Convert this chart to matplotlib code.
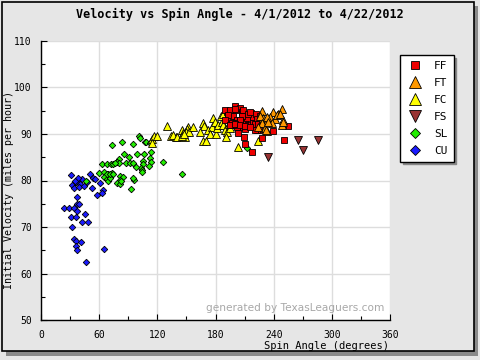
import matplotlib
matplotlib.use("Agg")
import matplotlib.pyplot as plt
from matplotlib.patches import Rectangle
from matplotlib.ticker import MultipleLocator

# ---------------- data (spin angle deg, velocity mph) ----------------
ff_x = [191.5, 196.7, 200.1, 201.2, 205.3, 207.0, 208.7, 209.4, 210.4, 212.2, 216.3,
        193.2, 195.0, 198.4, 201.9, 203.5, 205.3, 207.0, 208.7, 213.9, 218.4, 219.0,
        221.8, 223.2, 225.9, 220.8, 224.2, 227.7, 225.2, 223.2, 220.8, 201.9, 203.5,
        209.4, 210.4, 218.0, 227.7, 250.7, 255.1, 250.0, 239.0, 210.4, 198.4, 207.0,
        213.2, 196.7, 189.8, 195.0, 200.1, 205.3, 215.6, 193.2, 189.8, 195.0, 200.1,
        205.3, 210.4, 215.6]
ff_y = [94.8, 94.8, 96.0, 95.2, 95.5, 94.8, 95.2, 93.9, 93.0, 93.4, 94.6,
        93.7, 93.2, 93.9, 93.0, 92.3, 92.6, 91.7, 91.6, 91.9, 92.4, 93.7,
        94.3, 93.2, 93.9, 92.2, 92.1, 92.3, 90.9, 90.9, 90.9, 91.6, 90.3,
        89.4, 87.8, 86.1, 89.2, 88.8, 91.7, 91.9, 90.6, 91.0, 91.9, 93.9,
        94.3, 92.3, 95.2, 95.2, 95.4, 93.0, 94.8, 94.1, 93.0, 91.9, 92.1,
        91.9, 91.8, 91.6]

ft_x = [227.7, 239.6, 248.3, 244.8, 236.2, 229.3, 225.9, 233.5, 241.4, 249.3, 227.7,
        231.1, 238.0, 248.3, 224.2, 232.8, 232.8, 234.5, 243.1, 246.5, 249.3, 232.1]
ft_y = [94.9, 94.8, 95.4, 94.4, 93.7, 93.4, 93.9, 92.8, 93.2, 93.0, 92.3,
        91.2, 92.3, 91.9, 91.6, 90.6, 93.7, 92.6, 94.1, 94.4, 92.6, 90.8]

fc_x = [129.7, 152.0, 134.1, 139.3, 114.2, 116.6, 119.3, 114.2, 145.1, 150.3, 149.6,
        153.0, 156.5, 166.8, 168.1, 164.0, 172.6, 176.1, 177.7, 179.5, 174.3, 180.5,
        181.2, 182.9, 186.4, 188.1, 189.8, 191.6, 190.5, 195.0, 194.2, 203.5, 224.2,
        167.4, 170.2, 136.5, 140.0, 146.8, 148.5, 185.4, 187.4, 145.0, 148.0]
fc_y = [91.7, 91.6, 89.6, 89.4, 89.0, 89.6, 89.6, 88.0, 90.9, 91.0, 90.4,
        90.5, 91.6, 92.3, 91.8, 90.5, 90.9, 91.4, 93.5, 92.6, 90.1, 89.9,
        91.2, 91.9, 92.6, 91.9, 90.9, 90.5, 89.4, 91.2, 92.1, 87.2, 88.5,
        88.6, 88.4, 89.8, 89.4, 90.2, 89.4, 93.9, 94.3, 89.6, 90.0]

fs_x = [234.5, 264.6, 269.8, 285.4]
fs_y = [85.0, 88.8, 86.5, 88.8]

sl_x = [101.4, 72.9, 83.9, 95.2, 107.6, 85.9, 91.1, 99.3, 106.6, 80.5, 78.0, 80.2,
        62.6, 68.1, 71.9, 74.6, 87.4, 91.8, 95.2, 104.9, 105.5, 103.2, 104.5, 97.7,
        60.1, 65.3, 69.4, 72.9, 65.3, 67.8, 69.4, 71.2, 46.1, 81.5, 84.3, 81.5,
        78.0, 81.5, 92.8, 95.9, 95.2, 102.0, 108.0, 112.4, 115.8, 113.2, 126.2,
        112.4, 113.2, 111.7, 103.9, 145.7, 212.0, 76.3, 67.8, 71.2, 74.5, 82.2]
sl_y = [89.6, 87.6, 88.2, 87.8, 88.2, 85.6, 85.0, 85.6, 85.6, 84.6, 84.0, 83.7,
        83.5, 83.5, 83.5, 83.5, 83.7, 83.7, 83.7, 84.3, 83.5, 82.6, 82.3, 83.0,
        81.7, 81.9, 81.5, 81.7, 80.8, 80.3, 80.0, 80.6, 79.9, 81.0, 80.7, 80.1,
        79.5, 79.2, 78.1, 80.1, 80.5, 89.1, 88.2, 88.1, 88.9, 86.1, 83.9,
        84.9, 84.0, 83.2, 81.9, 81.3, 87.0, 83.7, 81.5, 81.5, 81.5, 79.8]

cu_x = [31.3, 50.5, 37.5, 32.3, 34.4, 42.6, 47.0, 52.3, 53.3, 55.7, 60.9, 64.3,
        62.6, 58.0, 37.5, 37.5, 39.2, 23.7, 28.9, 34.0, 37.5, 45.4, 30.6, 35.8,
        42.6, 48.8, 32.3, 34.4, 36.4, 41.6, 36.1, 37.5, 65.3, 46.7, 36.0, 38.5,
        40.0, 39.0, 35.5, 44.0]
cu_y = [81.2, 81.5, 79.9, 79.0, 78.3, 80.3, 79.7, 78.3, 80.5, 80.3, 79.4, 78.0,
        77.4, 76.9, 76.4, 75.0, 75.0, 74.0, 74.0, 74.0, 73.5, 72.7, 72.1, 72.1,
        71.0, 71.0, 70.0, 67.4, 67.0, 66.7, 65.9, 65.0, 65.2, 62.4, 79.6, 80.6,
        79.2, 78.5, 80.0, 78.8]

x_ticks = [0, 60, 120, 180, 240, 300, 360]
y_ticks = [50, 60, 70, 80, 90, 100, 110]

# ---------------- figure ----------------
W, H = 480, 360
fig = plt.figure(figsize=(4.8, 3.6), dpi=100)
fig.patch.set_facecolor("#e6e6e6")

def fx(px):
    return px / W

def fy(py):
    return 1 - py / H

# outer frame with shadow
fig.patches.append(Rectangle((fx(6), fy(356)), fx(478) - fx(6), fy(6) - fy(356),
                             transform=fig.transFigure, facecolor="#8a8a8a",
                             edgecolor="none", zorder=-3))
fig.patches.append(Rectangle((fx(2), fy(351)), fx(474) - fx(2), fy(2) - fy(351),
                             transform=fig.transFigure, facecolor="#e6e6e6",
                             edgecolor="black", linewidth=1.2, zorder=-2))

ax = fig.add_axes([fx(41), fy(320), fx(390) - fx(41), fy(41) - fy(320)])
ax.set_zorder(1)
ax.set_facecolor("white")
ax.set_xlim(0, 360)
ax.set_ylim(50, 110)
ax.set_xticks(x_ticks)
ax.set_yticks(y_ticks)
ax.xaxis.set_minor_locator(MultipleLocator(30))
ax.yaxis.set_minor_locator(MultipleLocator(5))
ax.grid(True, which="major", color="#dddddd", linewidth=1.0)
ax.set_axisbelow(True)
for s in ["top", "right"]:
    ax.spines[s].set_visible(False)
for s in ["left", "bottom"]:
    ax.spines[s].set_color("black")
    ax.spines[s].set_linewidth(1.0)
mono = "DejaVu Sans Mono"
ax.tick_params(which="both", direction="in", length=4, width=0.8, colors="black",
               labelsize=7)
ax.tick_params(which="minor", length=3)
ax.tick_params(axis="x", pad=7)
ax.tick_params(axis="y", pad=6.5)
for lab in ax.get_xticklabels() + ax.get_yticklabels():
    lab.set_fontfamily(mono)

ms_kw = dict(linestyle="none", markeredgecolor="black", markeredgewidth=0.6)
ax.plot(cu_x, cu_y, marker="D", markersize=3.3, color="#1a1aff", label="CU", zorder=3, **ms_kw)
ax.plot(sl_x, sl_y, marker="D", markersize=3.3, color="#22ee00", label="SL", zorder=3, **ms_kw)
ax.plot(fc_x, fc_y, marker="^", markersize=5.6, color="#ffff00", label="FC", zorder=3, **ms_kw)
ax.plot(ff_x, ff_y, marker="s", markersize=4.2, color="#ee0000", label="FF", zorder=4, **ms_kw)
ax.plot(ft_x, ft_y, marker="^", markersize=5.6, color="#ff9900", label="FT", zorder=4, **ms_kw)
ax.plot(fs_x, fs_y, marker="v", markersize=5.6, color="#993333", label="FS", zorder=4, **ms_kw)

ax.text(0.983, 0.025, "generated by TexasLeaguers.com", transform=ax.transAxes,
        ha="right", va="bottom", fontsize=7.6, color="#a8a8a8", fontfamily="DejaVu Sans")

fig.text(0.5, fy(14), "Velocity vs Spin Angle - 4/1/2012 to 4/22/2012", ha="center",
         va="center", fontsize=8.5, fontweight="bold", fontfamily=mono)
fig.text(fx(389), fy(346), "Spin Angle (degrees)", ha="right", va="center",
         fontsize=7.5, fontfamily=mono)
fig.text(fx(9), fy(190), "Initial Velocity (miles per hour)", ha="center", va="center",
         rotation=90, fontsize=7.2, fontfamily=mono)

handles, labels = ax.get_legend_handles_labels()
order = ["FF", "FT", "FC", "FS", "SL", "CU"]
hmap = dict(zip(labels, handles))
leg = fig.legend([hmap[k] for k in order], order, loc="upper left",
                 bbox_to_anchor=(fx(400), fy(55)), frameon=True, fancybox=False,
                 shadow={"color": "#888888", "alpha": 1.0}, edgecolor="black",
                 facecolor="white", prop={"family": mono, "size": 8},
                 labelspacing=0.62, handletextpad=0.9, handlelength=1.6,
                 borderpad=0.55, borderaxespad=0, numpoints=1, markerscale=1.45)
leg.set_zorder(5)
leg.get_frame().set_linewidth(1.0)

fig.savefig("out.png", dpi=100, facecolor=fig.get_facecolor())
